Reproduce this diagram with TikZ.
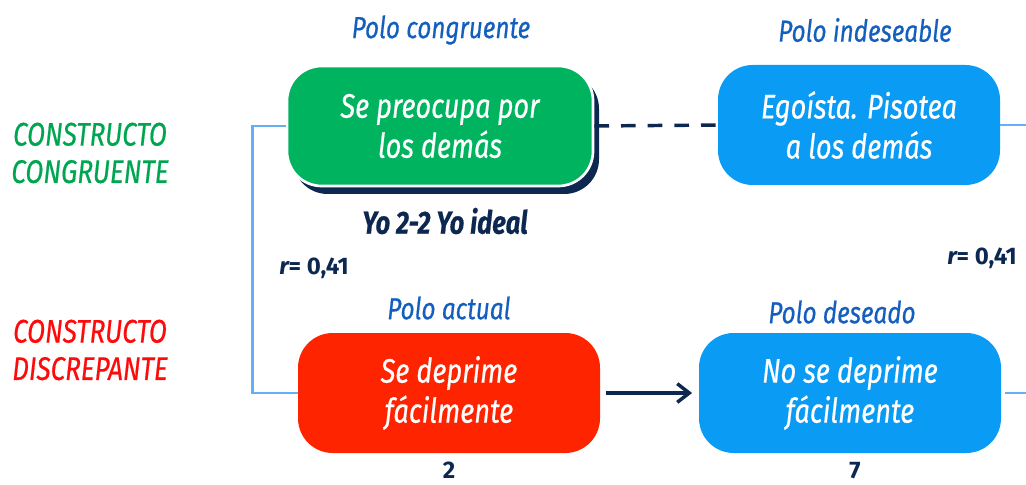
\documentclass[tikz,border=0pt]{standalone}
\usepackage{fontspec}
\setmainfont{Fira Sans}[FakeStretch=0.8, FakeBold=0.5]
\newfontfamily\ancha{Fira Sans}
\usetikzlibrary{arrows.meta,shadows}

\definecolor{verde}{RGB}{0,180,95}
\definecolor{celeste}{RGB}{10,155,245}
\definecolor{rojo}{RGB}{255,36,0}
\definecolor{azul}{RGB}{20,95,190}
\definecolor{marino}{RGB}{12,40,80}
\definecolor{linea}{RGB}{100,175,245}
\definecolor{vtexto}{RGB}{0,165,80}
\definecolor{rtexto}{RGB}{255,10,10}

\begin{document}
\begin{tikzpicture}[x=0.75pt, y=-0.75pt,
    polo/.style={rounded corners=26pt, minimum height=90pt, inner sep=0pt,
        text=white, align=center, font=\fontsize{25.5}{30}\selectfont\itshape},
    titulo/.style={text=azul, font=\fontsize{22.8}{26}\selectfont\itshape},
    dato/.style={text=marino, font=\ancha\fontsize{18}{22}\selectfont\bfseries},
    constructo/.style={align=center, font=\fontsize{24.5}{28}\selectfont\itshape},
    corchete/.style={draw=linea, line width=2.2pt}]

\useasboundingbox (0,0) rectangle (1026,485);

% polos
\node[polo, minimum width=229.5pt, fill=verde, draw=white, line width=2pt,
      drop shadow={shadow xshift=4.5pt, shadow yshift=-6pt, fill=marino, opacity=1}]
      (congr) at (440,126) {Se preocupa por\\los demás};
\node[polo, minimum width=211.5pt, fill=celeste] (indes) at (859,125) {Egoísta. Pisotea\\a los demás};
\node[polo, minimum width=226.5pt, fill=rojo] (actual) at (449,393) {Se deprime\\fácilmente};
\node[polo, minimum width=226.5pt, fill=celeste] (deseado) at (850,393) {No se deprime\\fácilmente};

% titulos
\node[titulo] (tcongr) at (441,30) {Polo congruente};
\node[titulo] (tindes) at (865,30) {Polo indeseable};
\node[titulo] (tactual) at (449,308) {Polo actual};
\node[titulo] (tdeseado) at (842,312) {Polo deseado};

\node[text=marino, font=\fontsize{24}{28}\selectfont\bfseries\itshape] (yo) at (445,221) {Yo 2-2 Yo ideal};
\node[dato] (rizq) at (314,268) {{\itshape r}= 0,41};
\node[dato] (rder) at (982,258) {{\itshape r}= 0,41};
\node[dato, anchor=base, inner sep=0pt] (nactual) at (449,478) {2};
\node[dato, anchor=base, inner sep=0pt] (ndeseado) at (855,478) {7};

\node[constructo, text=vtexto] (ccongr) at (90,153) {CONSTRUCTO\\CONGRUENTE};
\node[constructo, text=rtexto] (cdiscr) at (90,350) {CONSTRUCTO\\DISCREPANTE};

% conectores
\coordinate (borde) at (1026,0);
\draw[corchete] (congr.west) -- ++(-33,0) |- (actual.west);
\draw[corchete] (indes.east) -- (indes.east -| borde);
\draw[corchete] (deseado.east) ++(4,0) -- (deseado.east -| borde);

\draw[marino, line width=2.6pt, dash pattern=on 11pt off 9pt] (congr.east) -- (indes.west);
\draw[marino, line width=2.6pt, -{Straight Barb[length=9pt, width=14pt]},
      shorten <=4pt, shorten >=5pt] (actual.east) -- (deseado.west);

\end{tikzpicture}
\end{document}
